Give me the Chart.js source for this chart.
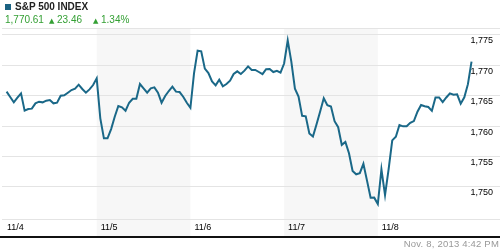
<!DOCTYPE html>
<html>
<head>
<meta charset="utf-8">
<script src="https://cdn.jsdelivr.net/npm/chart.js@4.4.1/dist/chart.umd.min.js"></script>
<style>
  html, body { margin: 0; padding: 0; background: #fff; }
  #wrap { position: relative; width: 500px; height: 250px; overflow: hidden; font-family: 'Liberation Sans', Arial, sans-serif; }
  #chart { position: absolute; left: 0; top: 0; }
  .sq { position: absolute; left: 5px; top: 4px; width: 6px; height: 6px; background: #1b6282; }
  .t { position: absolute; white-space: nowrap; line-height: 12px; }
  .name { left: 15px; top: 1px; font-size: 10px; font-weight: bold; color: #222; }
  .up { top: 14px; font-size: 10px; color: #34a034; }
  .tri { font-size: 7px; color: #34a034; font-family: 'DejaVu Sans', sans-serif; }
  .stamp { right: 1px; top: 238px; font-size: 9.5px; color: #999; letter-spacing: 0.2px; }
</style>
</head>
<body>
<div id="wrap">
  <canvas id="chart" width="500" height="250"></canvas>
  <div class="sq"></div>
  <div class="t name">S&amp;P 500 INDEX</div>
  <div class="t up" style="left:5px">1,770.61</div>
  <div class="t tri" style="left:49px; top:15px">▲</div>
  <div class="t up" style="left:57px">23.46</div>
  <div class="t tri" style="left:93px; top:15px">▲</div>
  <div class="t up" style="left:101px">1.34%</div>
  <div class="t stamp">Nov. 8, 2013 4:42 PM</div>
</div>
<script>
// valeurs, un point toutes les 15 minutes
const dates = ['11/4', '11/5', '11/6', '11/7', '11/8'];
const day1 = [1765.66, 1764.78, 1763.90, 1764.67, 1765.38, 1762.53, 1762.80, 1762.86, 1763.74, 1764.01, 1763.90, 1764.17, 1764.28, 1763.74, 1763.84, 1765.00, 1765.05, 1765.49, 1765.93, 1766.15, 1766.81, 1766.10, 1765.49, 1766.04, 1766.75, 1767.85];
const day2 = [1761.27, 1757.97, 1757.97, 1759.50, 1761.53, 1763.29, 1763.08, 1762.52, 1763.84, 1764.50, 1764.50, 1766.92, 1766.21, 1765.49, 1766.21, 1766.37, 1765.49, 1763.84, 1764.94, 1765.77, 1766.48, 1765.66, 1765.60, 1764.83, 1763.84, 1763.01];
const day3 = [1768.68, 1772.41, 1772.30, 1769.45, 1768.73, 1767.36, 1766.70, 1767.63, 1766.54, 1766.92, 1767.47, 1768.57, 1769.01, 1768.57, 1769.12, 1769.83, 1769.25, 1769.25, 1768.90, 1768.55, 1769.36, 1769.40, 1768.90, 1769.10, 1768.80, 1770.30];
const day4 = [1774.10, 1770.60, 1766.15, 1764.86, 1761.68, 1761.60, 1758.77, 1758.27, 1760.30, 1762.40, 1764.58, 1763.43, 1763.20, 1760.80, 1759.80, 1756.90, 1757.38, 1755.52, 1752.60, 1752.05, 1752.23, 1753.77, 1751.00, 1748.17, 1748.20, 1747.15];
const day5 = [1752.87, 1748.63, 1752.90, 1757.63, 1758.24, 1760.16, 1759.95, 1759.95, 1760.52, 1760.82, 1762.36, 1763.46, 1763.27, 1763.13, 1762.50, 1764.70, 1764.70, 1763.95, 1764.70, 1765.38, 1765.16, 1765.22, 1763.68, 1764.73, 1766.90, 1770.61];
const yTicks = [1750, 1755, 1760, 1765, 1770, 1775];
const yMin = 1744.68;
const yMax = 1776.15;

const perDay = 26;
const days = [day1, day2, day3, day4, day5];
const points = [];
days.forEach((vals, d) => vals.forEach((v, k) => points.push({ x: d * perDay + k + 1, y: v })));

// bandes grises un jour sur deux + trait noir sous les dates
const bands = {
  id: 'bands',
  beforeDraw(chart) {
    const { ctx, chartArea, scales: { x } } = chart;
    ctx.save();
    ctx.fillStyle = '#f7f7f7';
    [1, 3].forEach(d => {
      const a = x.getPixelForValue(d * perDay);
      const b = x.getPixelForValue((d + 1) * perDay);
      ctx.fillRect(a, chartArea.top, b - a, x.bottom - chartArea.top);
    });
    ctx.restore();
  },
  afterDraw(chart) {
    const { ctx, scales: { x } } = chart;
    ctx.save();
    ctx.fillStyle = '#111';
    ctx.fillRect(0, x.bottom, chart.width, 2);
    ctx.restore();
  }
};

Chart.defaults.font.family = "'Liberation Sans', Arial, sans-serif";

const ctx = document.getElementById('chart').getContext('2d');
const myChart = new Chart(ctx, {
  type: 'line',
  data: {
    datasets: [{
      data: points,
      borderColor: '#1a6888',
      borderWidth: 2,
      pointRadius: 0,
      tension: 0,
      fill: false,
    }],
  },
  options: {
    responsive: false,
    animation: false,
    layout: { padding: { top: 28, bottom: 14, left: 0, right: 0 } },
    plugins: { legend: { display: false }, tooltip: { enabled: false } },
    scales: {
      x: {
        type: 'linear',
        min: -0.28,
        max: 137.9,
        grid: { display: false, drawTicks: false },
        border: { display: false },
        afterBuildTicks: s => { s.ticks = dates.map((_, i) => ({ value: i * perDay })); },
        afterFit: s => { s.height = 17; },
        ticks: {
          align: 'start', labelOffset: 4, padding: 3, maxRotation: 0, autoSkip: false,
          color: '#000', font: { size: 9 },
          callback: v => dates[Math.round(v / perDay)],
        },
      },
      y: {
        position: 'right',
        min: yMin,
        max: yMax,
        grid: { color: '#e4e4e4', drawTicks: false },
        border: { display: false },
        afterBuildTicks: s => { s.ticks = [yMin, ...yTicks, yMax].map(v => ({ value: v })); },
        afterFit: s => { s.width = 0; },
        ticks: {
          mirror: true, padding: -7, labelOffset: 6,
          color: '#000', font: { size: 9 },
          callback: v => yTicks.includes(v) ? v.toLocaleString('en-US') : '',
        },
      },
    },
  },
  plugins: [bands],
});
</script>
</body>
</html>
